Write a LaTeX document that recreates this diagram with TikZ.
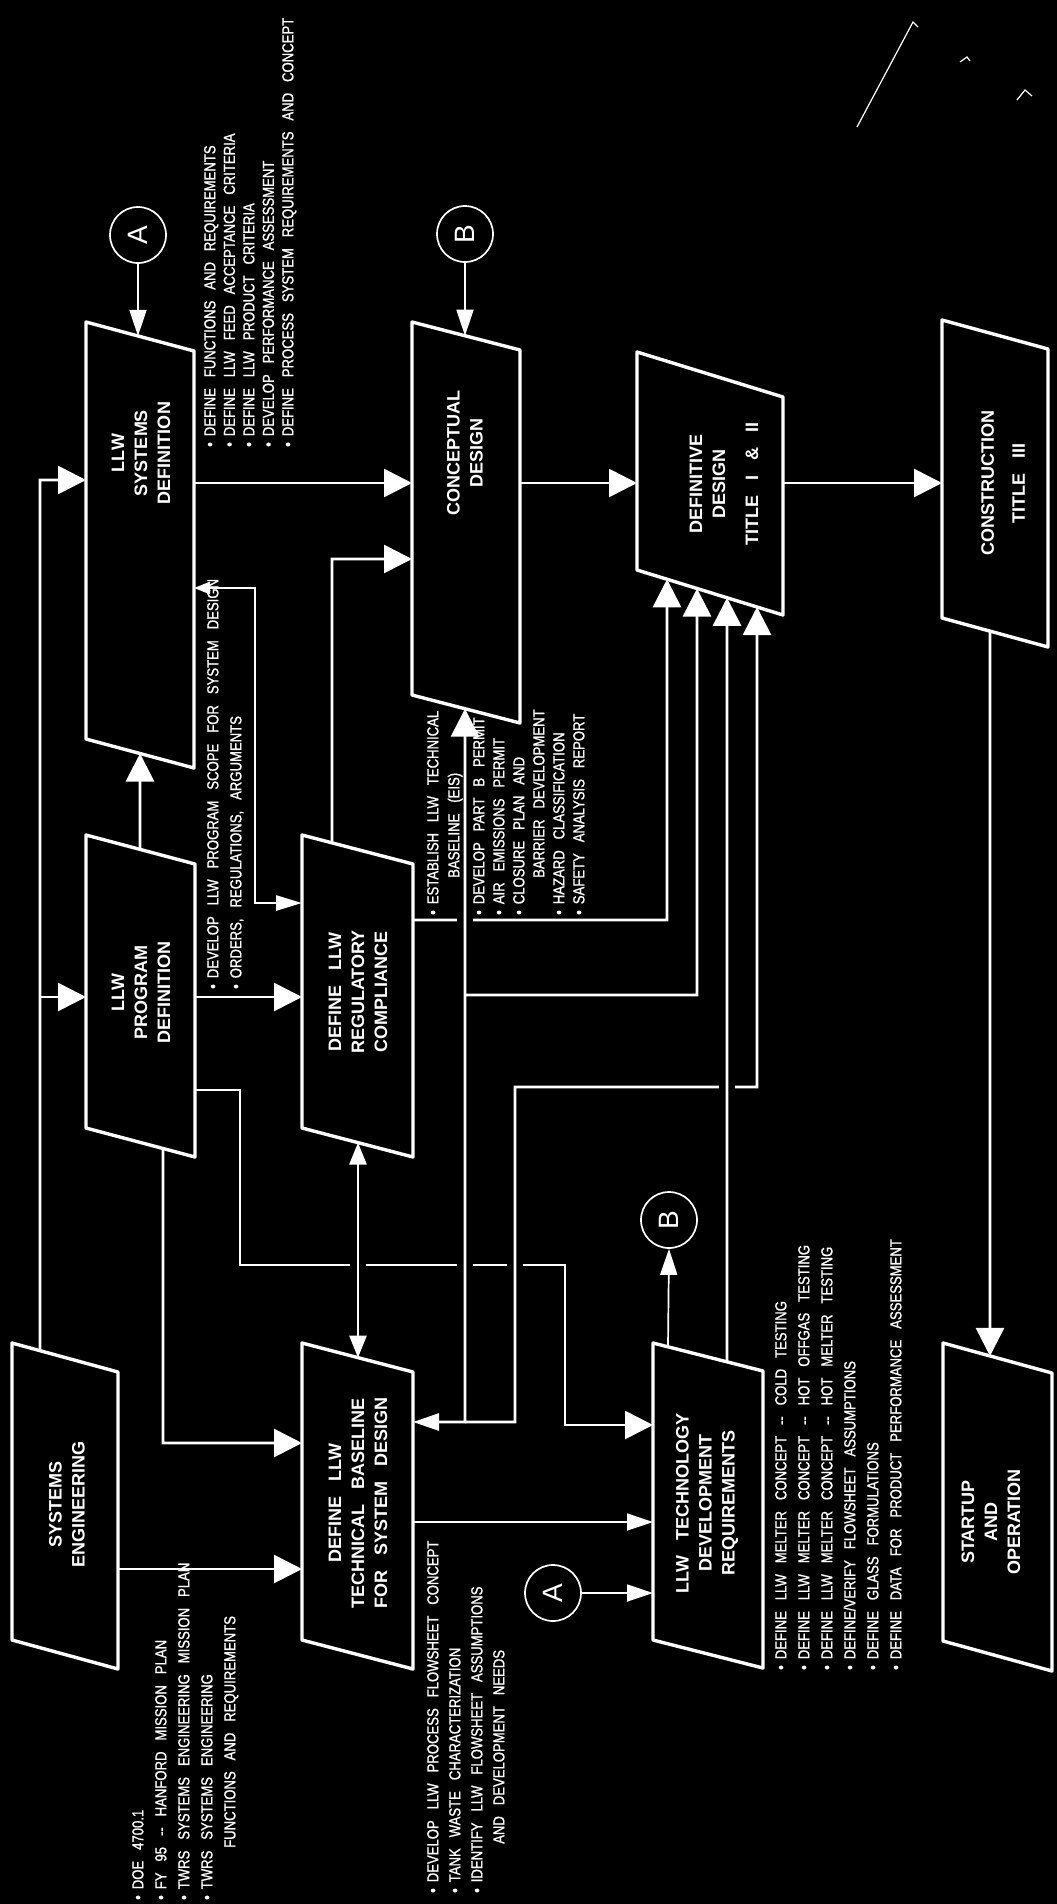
\documentclass[tikz,border=0pt]{standalone}
\usepackage{fontspec}
\setmainfont{Liberation Sans}
\newfontfamily\notefont[FakeStretch=0.82,FakeBold=1,WordSpace=3]{Liberation Sans}
\newfontfamily\lblfont[WordSpace=3]{Liberation Sans}
\usetikzlibrary{arrows.meta}
\newcommand\pgram[6]{%
  \coordinate (#1tl) at (#2,#4);
  \coordinate (#1tr) at (#3,{#4+#6});
  \coordinate (#1bl) at (#2,#5);
  \coordinate (#1br) at (#3,{#5+#6});
  \draw[boxline] (#1tl)--(#1tr)--(#1br)--(#1bl)--cycle;}
\newcommand\edgept[4]{\coordinate (#1) at (intersection cs: first line={(#2)--(#3)}, second line={(#4,0)--(#4,10)});}
\newcommand\gapat[2]{\fill[black] ({#1-8},{#2-4}) rectangle ({#1+8},{#2+4});}
\begin{document}
\begin{tikzpicture}[x=1pt,y=-1pt,
  boxline/.style={draw=white,line width=3.4pt,line join=round},
  conn/.style={draw=white,line width=2.8pt},
  fine/.style={draw=white,line width=1.7pt},
  big/.style={-{Triangle[length=28pt,width=28pt]}},
  mid/.style={-{Triangle[length=26pt,width=17pt]}},
  bothmid/.style={{Triangle[length=22pt,width=17pt]}-{Triangle[length=22pt,width=17pt]}},
  note/.style={text=white,rotate=90,anchor=north west,align=left,inner sep=0pt},
  lbl/.style={text=white,rotate=90,align=center,inner sep=0pt,font=\lblfont\bfseries\fontsize{18}{23}\selectfont},
  circ/.style={circle,draw=white,line width=1.7pt,minimum size=56pt,inner sep=0pt,text=white,font=\fontsize{28}{28}\selectfont}]
\fill[black] (0,0) rectangle (1057,1904);
\useasboundingbox (0,0) rectangle (1057,1904);

% boxes
\pgram{se}{12}{118}{1343}{1640}{29}
\pgram{tb}{302}{413}{1343}{1640}{29}
\pgram{td}{653}{763}{1343}{1640}{28}
\pgram{so}{943}{1052}{1343}{1641}{30}
\pgram{pd}{86}{195}{835}{1128}{29}
\pgram{rc}{302}{413}{835}{1128}{29}
\pgram{sd}{86}{194}{322}{739}{29}
\pgram{cd}{412}{520}{322}{695}{28}
\pgram{dd}{637}{783}{352}{570}{45}
\pgram{co}{942}{1048}{320}{618}{29}

% labels
\node[lbl] (sel) at (67,1504) {SYSTEMS\\ENGINEERING};
\node[lbl] (tbl) at (358,1503) {DEFINE LLW\\TECHNICAL BASELINE\\FOR SYSTEM DESIGN};
\node[lbl] (tdl) at (707,1503) {LLW TECHNOLOGY\\DEVELOPMENT\\REQUIREMENTS};
\node[lbl] (sol) at (991,1522) {STARTUP\\AND\\OPERATION};
\node[lbl] (pdl) at (141,992) {LLW\\PROGRAM\\DEFINITION};
\node[lbl] (rcl) at (358,992) {DEFINE LLW\\REGULATORY\\COMPLIANCE};
\node[lbl] (sdl) at (141,453) {LLW\\SYSTEMS\\DEFINITION};
\node[lbl] (cdl) at (465,453) {CONCEPTUAL\\DESIGN};
\node[lbl] (ddl) at (724,484) {DEFINITIVE\\DESIGN\\[10pt]TITLE I \& II};
\node[lbl] (col) at (1003,483) {CONSTRUCTION\\[8pt]TITLE III};

% off-page connectors
\node[circ] (A1) at (138,235) {\rotatebox{90}{A}};
\node[circ] (B1) at (465,234) {\rotatebox{90}{B}};
\node[circ] (A2) at (553,1593) {\rotatebox{90}{A}};
\node[circ] (B2) at (669,1220) {\rotatebox{90}{B}};

% points on slanted edges
\edgept{seT}{setl}{setr}{40}
\edgept{pdT}{pdtl}{pdtr}{140}
\edgept{sdB}{sdbl}{sdbr}{140}
\edgept{pdB}{pdbl}{pdbr}{163}
\edgept{rcB}{rcbl}{rcbr}{358}
\edgept{tbT}{tbtl}{tbtr}{358}
\edgept{rcT}{rctl}{rctr}{332}
\edgept{sdT}{sdtl}{sdtr}{138}
\edgept{cdT}{cdtl}{cdtr}{465}
\edgept{cdB}{cdbl}{cdbr}{465}
\edgept{tdTa}{tdtl}{tdtr}{668}
\edgept{tdTb}{tdtl}{tdtr}{727}
\edgept{ddBa}{ddbl}{ddbr}{667}
\edgept{ddBb}{ddbl}{ddbr}{697}
\edgept{ddBc}{ddbl}{ddbr}{727}
\edgept{ddBd}{ddbl}{ddbr}{757}
\edgept{coB}{cobl}{cobr}{990}
\edgept{soT}{sotl}{sotr}{990}

% connectors
\draw[conn,big] (seT) -- (40,480) -- (sdtl |- 0,480);
\draw[conn,big] (40,997) -- (pdtl |- 0,997);
\draw[conn,big] (setr |- 0,1569) -- (tbtl |- 0,1569);
\draw[conn,big] (pdT) -- (sdB);
\draw[conn,big] (pdtr |- 0,997) -- (rctl |- 0,997);
\draw[conn,{Triangle[length=16pt,width=12pt]}-{Triangle[length=26pt,width=15pt]}] (sdtr |- 0,588) -- (255,588) -- (255,903) -- (rctl |- 0,903);
\draw[conn,big] (pdB) -- (163,1443) -- (tbtl |- 0,1443);
\draw[conn,big] (rcT) -- (332,559) -- (cdtl |- 0,559);
\draw[conn,big] (sdtr |- 0,483) -- (cdtl |- 0,483);
\draw[conn,big] (cdtr |- 0,483) -- (ddtl |- 0,483);
\draw[conn,big] (ddtr |- 0,483) -- (cotl |- 0,483);
\draw[conn,big] (coB) -- (soT);
\draw[fine,mid] (A1.south) -- (sdT);
\draw[fine,mid] (B1.south) -- (cdT);
\draw[fine,mid] (A2.east) -- (tdtl |- A2.east);
\draw[fine,mid] (tdTa) -- (B2.south);
\draw[fine,mid] (tbtr |- 0,1522) -- (tdtl |- 0,1522);

\draw[conn,big] (pdtr |- 0,1090) -- (240,1090) -- (240,1265) -- (565,1265) -- (565,1425) -- (tdtl |- 0,1425);
\draw[conn,big] (rctr |- 0,920) -- (667,920) -- (ddBa);
\gapat{358}{1265}\gapat{465}{1265}\gapat{515}{1265}\gapat{465}{920}
\draw[conn,big] (465,1422) -- (515,1422) -- (515,1087) -- (757,1087) -- (ddBd);
\gapat{727}{1087}
\draw[conn,big] (tdTb) -- (ddBc);
\draw[conn,bothmid] (rcB) -- (tbT);
\draw[conn,{Triangle[length=28pt,width=28pt]}-{Triangle[length=26pt,width=17pt]}] (cdB) -- (465,1422) -- (tbtr |- 0,1422);
\draw[conn,big] (465,995) -- (697,995) -- (ddBb);

% notes
\node[note,font=\notefont\fontsize{16}{19.5}\selectfont] (sdn) at (204,447) {%
\textbullet\hspace{6pt}DEFINE FUNCTIONS AND REQUIREMENTS\\
\textbullet\hspace{6pt}DEFINE LLW FEED ACCEPTANCE CRITERIA\\
\textbullet\hspace{6pt}DEFINE LLW PRODUCT CRITERIA\\
\textbullet\hspace{6pt}DEVELOP PERFORMANCE ASSESSMENT\\
\textbullet\hspace{6pt}DEFINE PROCESS SYSTEM REQUIREMENTS AND CONCEPT};
\node[note,font=\notefont\fontsize{16}{23}\selectfont] (pdn) at (207,989) {%
\textbullet\hspace{6pt}DEVELOP LLW PROGRAM SCOPE FOR SYSTEM DESIGN\\
\textbullet\hspace{6pt}ORDERS, REGULATIONS, ARGUMENTS};
\node[note,font=\notefont\fontsize{16}{21}\selectfont] (rcn1) at (427,915) {%
\textbullet\hspace{6pt}ESTABLISH LLW TECHNICAL\\
\hspace*{37pt}BASELINE (EIS)};
\node[note,font=\notefont\fontsize{16}{20}\selectfont] (rcn2) at (473,915) {%
\textbullet\hspace{6pt}DEVELOP PART B PERMIT\\
\textbullet\hspace{6pt}AIR EMISSIONS PERMIT\\
\textbullet\hspace{6pt}CLOSURE PLAN AND\\
\hspace*{37pt}BARRIER DEVELOPMENT\\
\textbullet\hspace{6pt}HAZARD CLASSIFICATION\\
\textbullet\hspace{6pt}SAFETY ANALYSIS REPORT};
\node[note,font=\notefont\fontsize{16}{23}\selectfont] (sen) at (132,1900) {%
\textbullet\hspace{6pt}DOE 4700.1\\
\textbullet\hspace{6pt}FY 95 -- HANFORD MISSION PLAN\\
\textbullet\hspace{6pt}TWRS SYSTEMS ENGINEERING MISSION PLAN\\
\textbullet\hspace{6pt}TWRS SYSTEMS ENGINEERING\\
\hspace*{52pt}FUNCTIONS AND REQUIREMENTS};
\node[note,font=\notefont\fontsize{16}{22}\selectfont] (tbn) at (427,1893) {%
\textbullet\hspace{6pt}DEVELOP LLW PROCESS FLOWSHEET CONCEPT\\
\textbullet\hspace{6pt}TANK WASTE CHARACTERIZATION\\
\textbullet\hspace{6pt}IDENTIFY LLW FLOWSHEET ASSUMPTIONS\\
\hspace*{49pt}AND DEVELOPMENT NEEDS};
\node[note,font=\notefont\fontsize{16}{23}\selectfont] (tdn) at (775,1670) {%
\textbullet\hspace{6pt}DEFINE LLW MELTER CONCEPT -- COLD TESTING\\
\textbullet\hspace{6pt}DEFINE LLW MELTER CONCEPT -- HOT OFFGAS TESTING\\
\textbullet\hspace{6pt}DEFINE LLW MELTER CONCEPT -- HOT MELTER TESTING\\
\textbullet\hspace{6pt}DEFINE/VERIFY FLOWSHEET ASSUMPTIONS\\
\textbullet\hspace{6pt}DEFINE GLASS FORMULATIONS\\
\textbullet\hspace{6pt}DEFINE DATA FOR PRODUCT PERFORMANCE ASSESSMENT};

% scan mark top right
\draw[white,line width=1.2pt] (857,127) -- (913,22) -- (918,27);
\draw[white,line width=1.2pt] (960,62) -- (967,57) -- (970,61);
\draw[white,line width=1.2pt] (1017,100) -- (1025,90) -- (1032,96);
\end{tikzpicture}
\end{document}
